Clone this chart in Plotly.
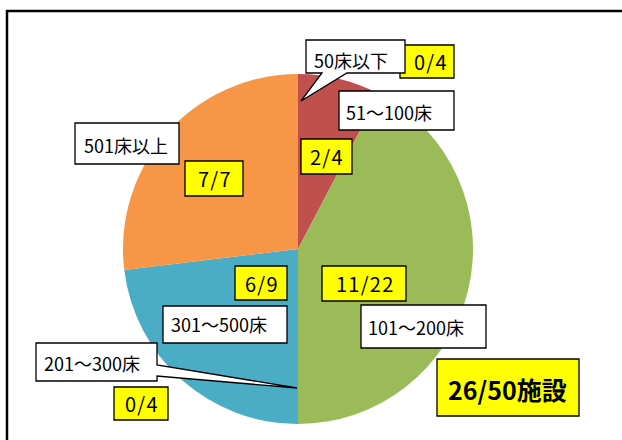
import plotly.graph_objects as go

W, H = 622, 440

# Data
categories = ["50床以下", "51～100床", "101～200床", "201～300床", "301～500床", "501床以上"]
participants = [0, 2, 11, 0, 6, 7]
facilities = [4, 4, 22, 4, 9, 7]
colors = ["#C0504D", "#C0504D", "#9BBB59", "#4BACC6", "#4BACC6", "#F79646"]
total_label = f"{sum(participants)}/{sum(facilities)}施設"
fraction_labels = [f"{p}/{f}" for p, f in zip(participants, facilities)]


def px(x):
    return x / W


def py(y):
    return 1 - y / H


fig = go.Figure(go.Pie(
    labels=categories,
    values=participants,
    sort=False,
    direction="clockwise",
    rotation=0,
    marker=dict(colors=colors, line=dict(width=0)),
    textinfo="none",
    hoverinfo="label+value",
    showlegend=False,
    domain=dict(x=[px(123), px(473)], y=[py(424), py(74)]),
))

shapes = []
annotations = []


def rect(x0, y0, x1, y1, fill):
    shapes.append(dict(type="rect", xref="paper", yref="paper",
                       x0=px(x0), x1=px(x1), y0=py(y1), y1=py(y0),
                       fillcolor=fill, line=dict(color="black", width=1.3),
                       layer="above"))


def path(points, fill):
    d = "M " + " L ".join(f"{px(x):.5f},{py(y):.5f}" for x, y in points) + " Z"
    shapes.append(dict(type="path", xref="paper", yref="paper", path=d,
                       fillcolor=fill, line=dict(color="black", width=1.3),
                       layer="above"))


def text(t, cx, cy, size=16, bold=False):
    annotations.append(dict(
        x=px(cx), y=py(cy), xref="paper", yref="paper", text=f"<b>{t}</b>" if bold else t,
        showarrow=False, xanchor="center", yanchor="middle",
        font=dict(family="Noto Sans CJK JP", size=size, color="black")))


YEL = "#FFFF00"
# label boxes & fraction boxes (positions per category order)
label_boxes = [None, (339, 91, 454, 130), (361, 305, 486, 348), None,
               (163, 306, 287, 343), (75, 123, 179, 164)]
label_centers = [(351, 60), (389, 112), (416, 327), (92, 363), (219, 324), (126, 145)]
frac_boxes = [(400, 45, 454, 78), (301, 139, 352, 174), (322, 266, 406, 301),
              (114, 387, 168, 420), (235, 266, 287, 300), (185, 161, 243, 196)]

# yellow fraction boxes first (top 0/4 sits under the callout)
for b in frac_boxes:
    rect(*b, YEL)
for b in label_boxes:
    if b:
        rect(*b, "white")

# callouts for zero slices
path([(306, 40), (405, 40), (405, 73), (347, 73), (301, 101), (322, 73), (306, 73)], "white")
path([(36, 343), (157, 343), (157, 365), (297, 388), (157, 376), (157, 381), (36, 381)], "white")

# total box
rect(437, 359, 579, 416, YEL)

for t, (cx, cy) in zip(categories, label_centers):
    text(t, cx, cy, size=18)
HS = "\u200a"
for t, b in zip(fraction_labels, frac_boxes):
    cx = (b[0] + b[2]) / 2 + (3 if b == frac_boxes[0] else 0)
    text(HS.join(t), cx, (b[1] + b[3]) / 2, size=20)
text(total_label, 507, 389, size=25, bold=True)

# outer frame (top and left edges)
shapes.append(dict(type="path", xref="paper", yref="paper",
                   path=f"M {px(7)},{py(460)} L {px(7)},{py(11)} L {px(640)},{py(11)}",
                   line=dict(color="black", width=2.5), layer="above"))

fig.update_layout(
    width=W, height=H,
    margin=dict(l=0, r=0, t=0, b=0),
    paper_bgcolor="white", plot_bgcolor="white",
    shapes=shapes, annotations=annotations,
)

fig.write_html("out.html", config={"displayModeBar": False},
               post_script="document.body.style.margin='0';document.body.style.padding='0';")
